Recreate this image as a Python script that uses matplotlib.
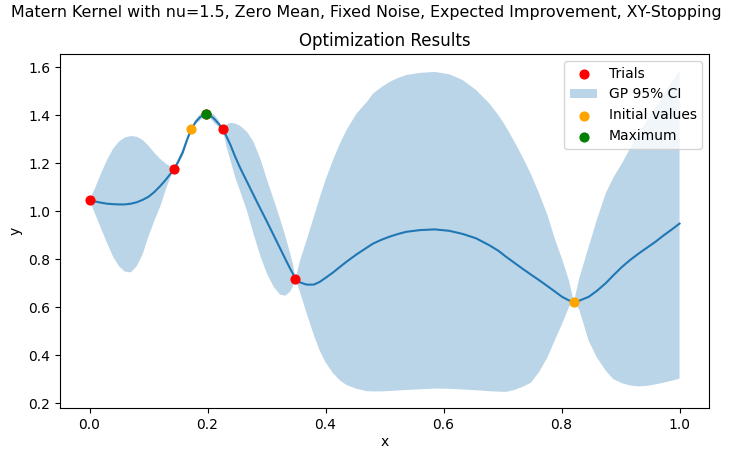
import matplotlib
matplotlib.use("Agg")
import matplotlib.pyplot as plt

# observed points
trial_x = [0.0, 0.143, 0.1978, 0.2258, 0.349]
trial_y = [1.046, 1.174, 1.403, 1.342, 0.718]
init_x = [0.1725, 0.821]
init_y = [1.342, 0.622]
best_x = [0.1978]
best_y = [1.403]

# GP posterior mean and 95% CI bounds
grid_x = [0.0, 0.01, 0.02, 0.03, 0.04, 0.05, 0.06, 0.07, 0.08, 0.09,
          0.10, 0.11, 0.12, 0.13, 0.137, 0.143,
          0.150, 0.158, 0.165, 0.1725, 0.180, 0.188, 0.1978, 0.205, 0.212, 0.219,
          0.2258, 0.232, 0.239, 0.247, 0.2557, 0.267, 0.278, 0.29, 0.301, 0.312,
          0.323, 0.332, 0.340, 0.345, 0.349,
          0.357, 0.368, 0.38, 0.39, 0.40, 0.413, 0.4245, 0.436, 0.4527, 0.47,
          0.4807, 0.495, 0.509, 0.523, 0.537, 0.56, 0.585, 0.61, 0.6326, 0.655,
          0.6776, 0.693, 0.706, 0.72, 0.734, 0.748, 0.762, 0.776, 0.79, 0.801,
          0.8127, 0.821,
          0.83, 0.846, 0.86, 0.875, 0.888, 0.9026, 0.916, 0.93, 0.945, 0.959,
          0.972, 0.986, 1.0]
mean_y = [1.046, 1.040, 1.035, 1.031, 1.029, 1.028, 1.028, 1.031, 1.037, 1.047,
          1.060, 1.080, 1.105, 1.133, 1.155, 1.174,
          1.205, 1.245, 1.295, 1.342, 1.372, 1.393, 1.403, 1.398, 1.383, 1.364,
          1.342, 1.312, 1.275, 1.226, 1.178, 1.122, 1.067, 1.008, 0.955, 0.900,
          0.845, 0.800, 0.761, 0.738, 0.718,
          0.703, 0.694, 0.694, 0.705, 0.722, 0.745, 0.768, 0.790, 0.820, 0.848,
          0.865, 0.881, 0.894, 0.905, 0.914, 0.921, 0.924, 0.918, 0.905, 0.887,
          0.858, 0.835, 0.810, 0.785, 0.760, 0.736, 0.7125, 0.688, 0.663, 0.643,
          0.628, 0.622,
          0.627, 0.643, 0.668, 0.700, 0.733, 0.768, 0.796, 0.822, 0.848, 0.872,
          0.897, 0.922, 0.948]
ci_upper = [1.046, 1.10, 1.16, 1.215, 1.26, 1.29, 1.307, 1.313, 1.31, 1.297,
            1.272, 1.243, 1.217, 1.197, 1.186, 1.174,
            1.217, 1.261, 1.307, 1.342, 1.382, 1.406, 1.403, 1.41, 1.401, 1.377,
            1.342, 1.36, 1.368, 1.365, 1.355, 1.33, 1.289, 1.215, 1.13, 1.05,
            0.968, 0.895, 0.825, 0.778, 0.718,
            0.796, 0.88, 0.975, 1.055, 1.13, 1.215, 1.282, 1.34, 1.407, 1.455,
            1.49, 1.517, 1.539, 1.555, 1.567, 1.576, 1.58, 1.57, 1.546, 1.505,
            1.449, 1.40, 1.351, 1.29, 1.226, 1.155, 1.074, 0.985, 0.875, 0.80,
            0.71, 0.622,
            0.72, 0.851, 0.965, 1.075, 1.14, 1.20, 1.26, 1.32, 1.378, 1.43,
            1.48, 1.535, 1.5875]
ci_lower = [1.046, 0.985, 0.925, 0.865, 0.81, 0.77, 0.748, 0.745, 0.77, 0.82,
            0.895, 0.96, 1.02, 1.095, 1.14, 1.174,
            1.193, 1.229, 1.283, 1.342, 1.362, 1.380, 1.403, 1.386, 1.365, 1.351,
            1.342, 1.27, 1.21, 1.14, 1.08, 1.0, 0.905, 0.81, 0.738, 0.685,
            0.652, 0.648, 0.665, 0.688, 0.718,
            0.66, 0.574, 0.485, 0.42, 0.37, 0.324, 0.295, 0.275, 0.26, 0.25,
            0.249, 0.249, 0.251, 0.253, 0.255, 0.258, 0.261, 0.26, 0.257, 0.254,
            0.25, 0.248, 0.247, 0.255, 0.268, 0.285, 0.33, 0.39, 0.47, 0.53,
            0.601, 0.622,
            0.59, 0.46, 0.39, 0.335, 0.30, 0.283, 0.274, 0.27, 0.272, 0.278,
            0.285, 0.293, 0.302]

fig, ax = plt.subplots(figsize=(7.32, 4.49), dpi=100)
fig.subplots_adjust(left=0.082, right=0.9686, top=0.8797, bottom=0.0913)
fig.suptitle('Matern Kernel with nu=1.5, Zero Mean, Fixed Noise, Expected Improvement, XY-Stopping',
             fontsize=11.4, y=0.988)

ax.scatter(trial_x, trial_y, color='red', s=40, zorder=3, label='Trials')
ax.fill_between(grid_x, ci_lower, ci_upper, alpha=0.3, linewidth=0, label='GP 95% CI')
ax.plot(grid_x, mean_y)
ax.scatter(init_x, init_y, color='orange', s=40, zorder=3, label='Initial values')
ax.scatter(best_x, best_y, color='green', s=40, zorder=4, label='Maximum')

ax.set_title('Optimization Results')
ax.set_xlabel('x', labelpad=2.5)
ax.set_ylabel('y')
ax.legend(loc='upper right')

fig.savefig('out.png', dpi=100)
